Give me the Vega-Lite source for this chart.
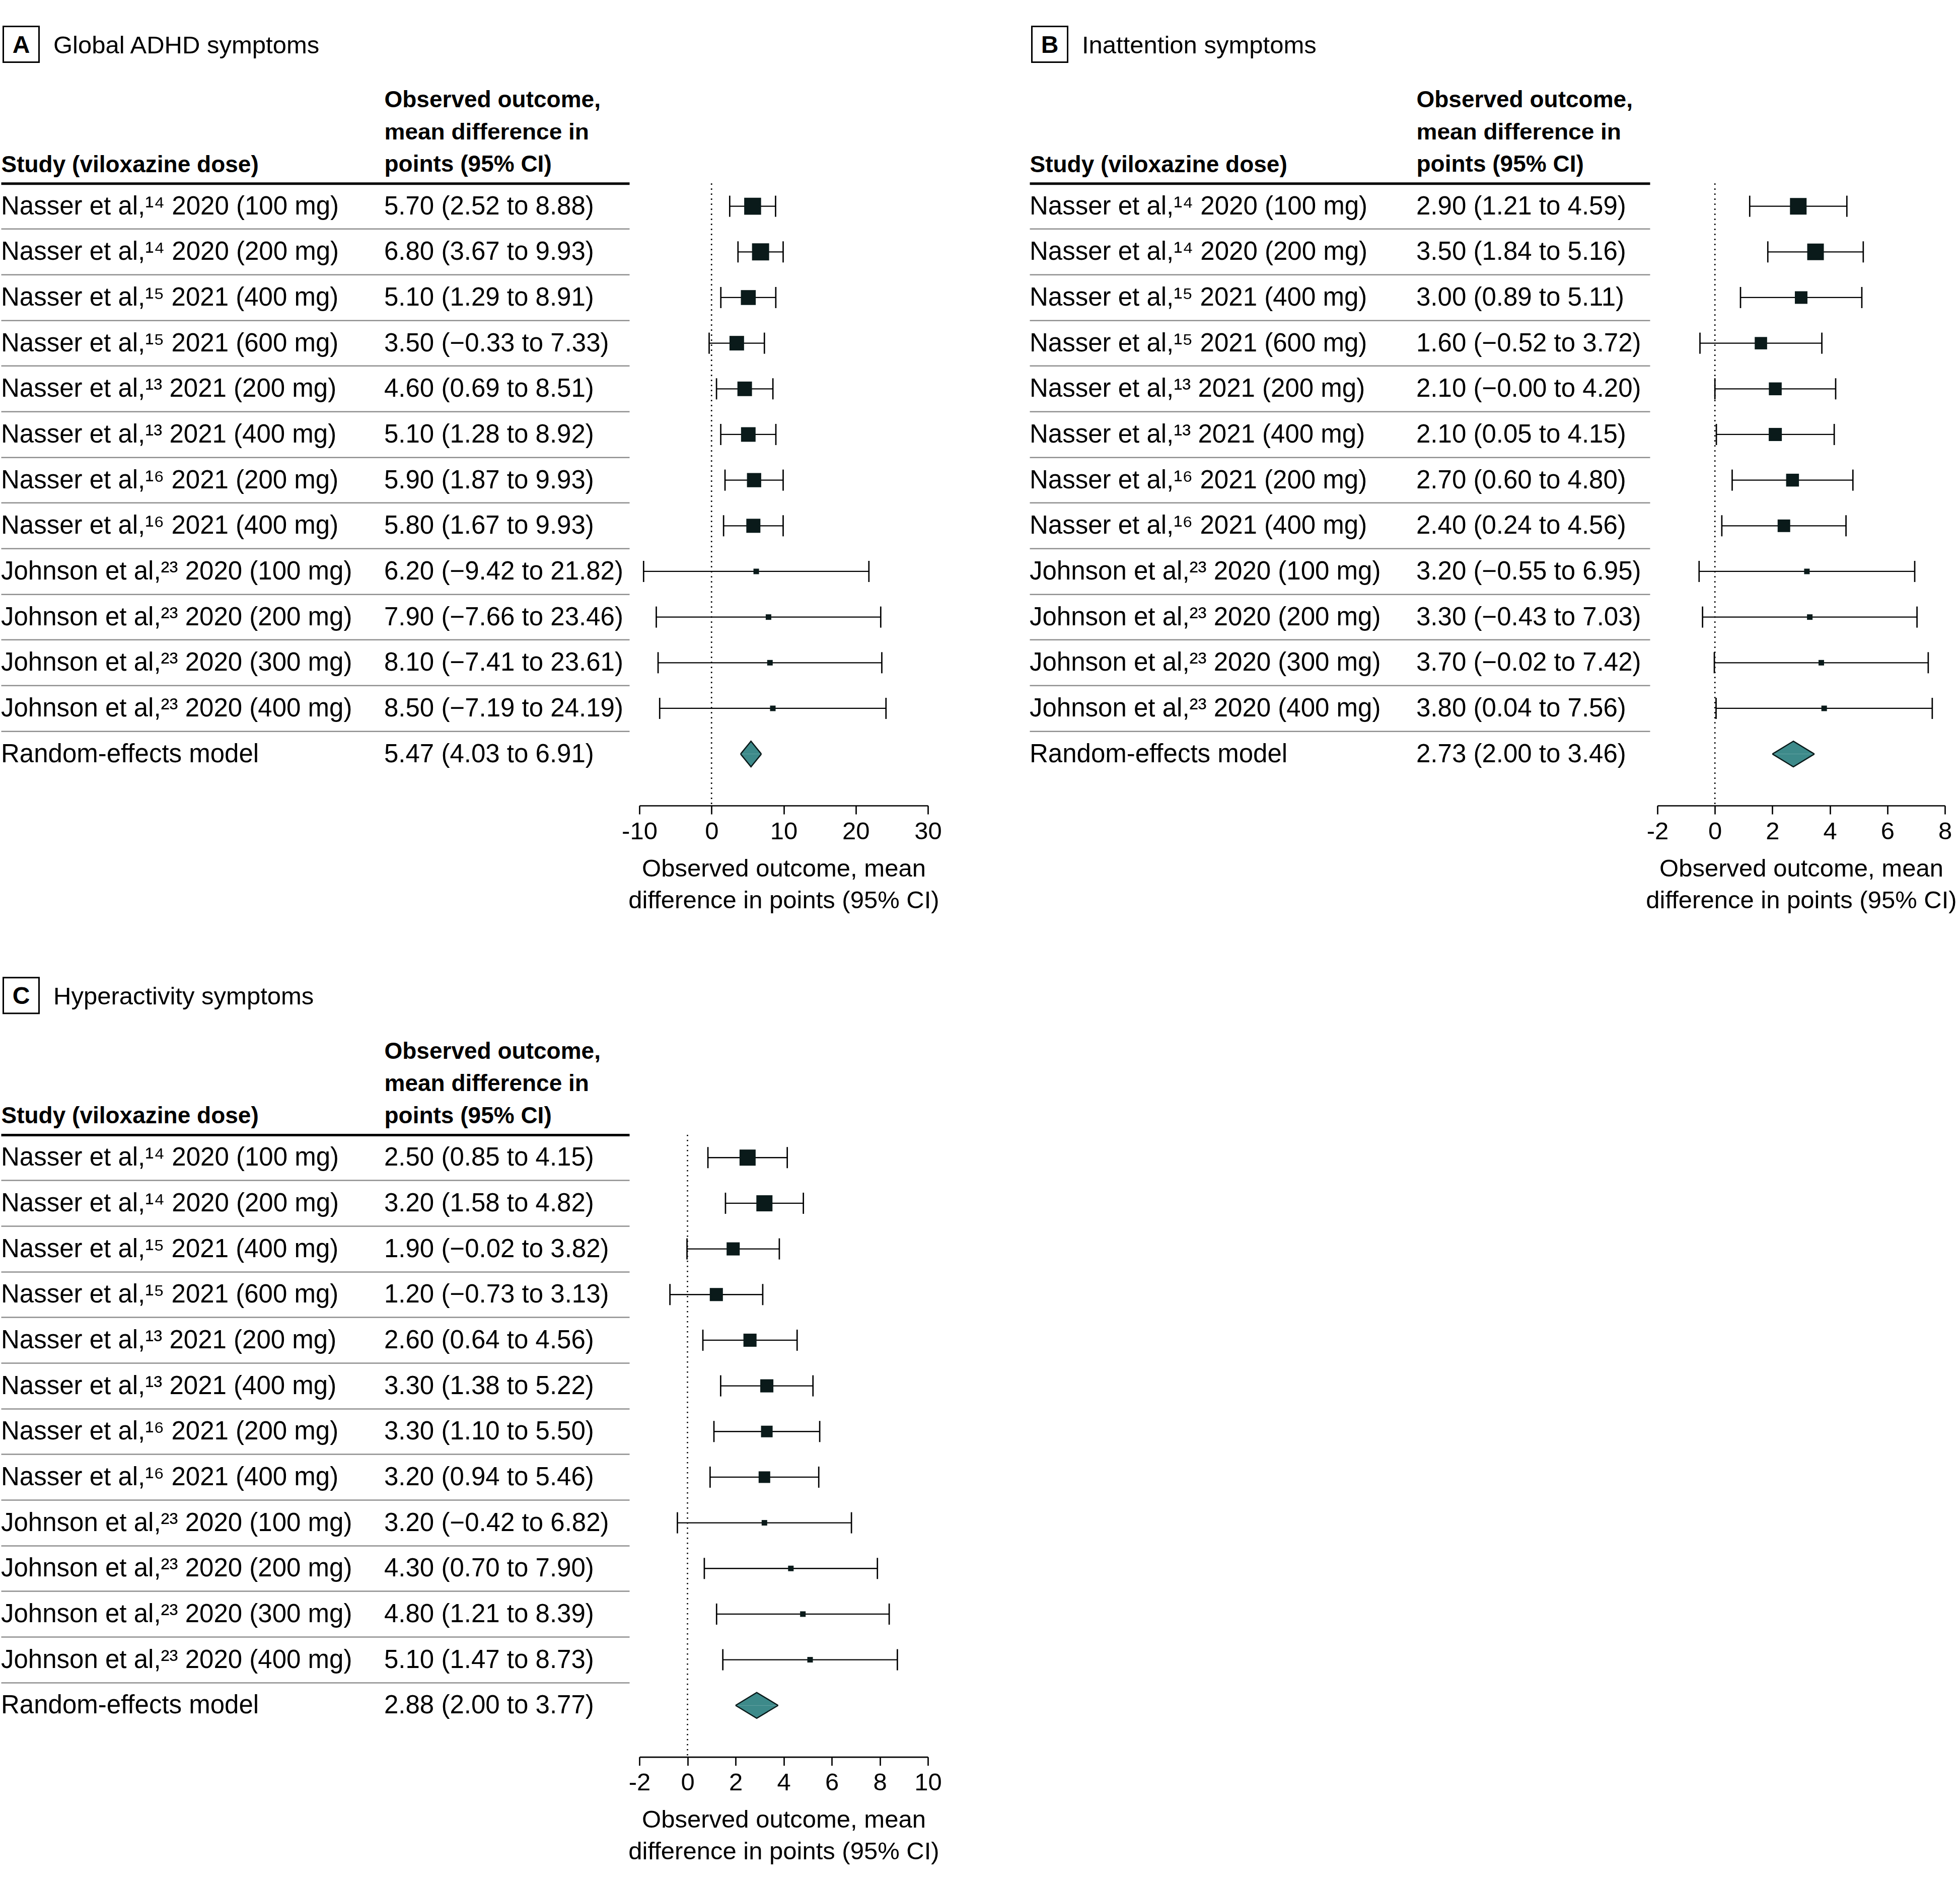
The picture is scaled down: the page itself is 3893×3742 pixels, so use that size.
{
  "$schema": "https://vega.github.io/schema/vega-lite/v6.json",
  "background": "white",
  "padding": {"left": 0, "top": 46, "right": 5, "bottom": 5},
  "config": {
    "font": "Liberation Sans",
    "view": {"stroke": null},
    "text": {"font": "Liberation Sans"},
    "axis": {"labelFont": "Liberation Sans", "titleFont": "Liberation Sans"}
  },
  "datasets": {
    "A": [
      {"row": 1, "kind": "study", "study": "Nasser et al,¹⁴ 2020 (100 mg)", "outcome": "5.70 (2.52 to 8.88)", "est": 5.70, "lo": 2.52, "hi": 8.88, "weight": 12.1},
      {"row": 2, "kind": "study", "study": "Nasser et al,¹⁴ 2020 (200 mg)", "outcome": "6.80 (3.67 to 9.93)", "est": 6.80, "lo": 3.67, "hi": 9.93, "weight": 12.4},
      {"row": 3, "kind": "study", "study": "Nasser et al,¹⁵ 2021 (400 mg)", "outcome": "5.10 (1.29 to 8.91)", "est": 5.10, "lo": 1.29, "hi": 8.91, "weight": 9.4},
      {"row": 4, "kind": "study", "study": "Nasser et al,¹⁵ 2021 (600 mg)", "outcome": "3.50 (−0.33 to 7.33)", "est": 3.50, "lo": -0.33, "hi": 7.33, "weight": 9.0},
      {"row": 5, "kind": "study", "study": "Nasser et al,¹³ 2021 (200 mg)", "outcome": "4.60 (0.69 to 8.51)", "est": 4.60, "lo": 0.69, "hi": 8.51, "weight": 9.0},
      {"row": 6, "kind": "study", "study": "Nasser et al,¹³ 2021 (400 mg)", "outcome": "5.10 (1.28 to 8.92)", "est": 5.10, "lo": 1.28, "hi": 8.92, "weight": 9.0},
      {"row": 7, "kind": "study", "study": "Nasser et al,¹⁶ 2021 (200 mg)", "outcome": "5.90 (1.87 to 9.93)", "est": 5.90, "lo": 1.87, "hi": 9.93, "weight": 8.6},
      {"row": 8, "kind": "study", "study": "Nasser et al,¹⁶ 2021 (400 mg)", "outcome": "5.80 (1.67 to 9.93)", "est": 5.80, "lo": 1.67, "hi": 9.93, "weight": 8.4},
      {"row": 9, "kind": "study", "study": "Johnson et al,²³ 2020 (100 mg)", "outcome": "6.20 (−9.42 to 21.82)", "est": 6.20, "lo": -9.42, "hi": 21.82, "weight": 1.3},
      {"row": 10, "kind": "study", "study": "Johnson et al,²³ 2020 (200 mg)", "outcome": "7.90 (−7.66 to 23.46)", "est": 7.90, "lo": -7.66, "hi": 23.46, "weight": 1.3},
      {"row": 11, "kind": "study", "study": "Johnson et al,²³ 2020 (300 mg)", "outcome": "8.10 (−7.41 to 23.61)", "est": 8.10, "lo": -7.41, "hi": 23.61, "weight": 1.3},
      {"row": 12, "kind": "study", "study": "Johnson et al,²³ 2020 (400 mg)", "outcome": "8.50 (−7.19 to 24.19)", "est": 8.50, "lo": -7.19, "hi": 24.19, "weight": 1.3},
      {"row": 13, "kind": "summary", "study": "Random-effects model", "outcome": "5.47 (4.03 to 6.91)", "est": 5.47, "lo": 4.03, "hi": 6.91, "weight": null}
    ],
    "B": [
      {"row": 1, "kind": "study", "study": "Nasser et al,¹⁴ 2020 (100 mg)", "outcome": "2.90 (1.21 to 4.59)", "est": 2.90, "lo": 1.21, "hi": 4.59, "weight": 11.7},
      {"row": 2, "kind": "study", "study": "Nasser et al,¹⁴ 2020 (200 mg)", "outcome": "3.50 (1.84 to 5.16)", "est": 3.50, "lo": 1.84, "hi": 5.16, "weight": 11.7},
      {"row": 3, "kind": "study", "study": "Nasser et al,¹⁵ 2021 (400 mg)", "outcome": "3.00 (0.89 to 5.11)", "est": 3.00, "lo": 0.89, "hi": 5.11, "weight": 6.7},
      {"row": 4, "kind": "study", "study": "Nasser et al,¹⁵ 2021 (600 mg)", "outcome": "1.60 (−0.52 to 3.72)", "est": 1.60, "lo": -0.52, "hi": 3.72, "weight": 6.5},
      {"row": 5, "kind": "study", "study": "Nasser et al,¹³ 2021 (200 mg)", "outcome": "2.10 (−0.00 to 4.20)", "est": 2.10, "lo": 0.00, "hi": 4.20, "weight": 7.0},
      {"row": 6, "kind": "study", "study": "Nasser et al,¹³ 2021 (400 mg)", "outcome": "2.10 (0.05 to 4.15)", "est": 2.10, "lo": 0.05, "hi": 4.15, "weight": 7.3},
      {"row": 7, "kind": "study", "study": "Nasser et al,¹⁶ 2021 (200 mg)", "outcome": "2.70 (0.60 to 4.80)", "est": 2.70, "lo": 0.60, "hi": 4.80, "weight": 7.0},
      {"row": 8, "kind": "study", "study": "Nasser et al,¹⁶ 2021 (400 mg)", "outcome": "2.40 (0.24 to 4.56)", "est": 2.40, "lo": 0.24, "hi": 4.56, "weight": 6.7},
      {"row": 9, "kind": "study", "study": "Johnson et al,²³ 2020 (100 mg)", "outcome": "3.20 (−0.55 to 6.95)", "est": 3.20, "lo": -0.55, "hi": 6.95, "weight": 1.3},
      {"row": 10, "kind": "study", "study": "Johnson et al,²³ 2020 (200 mg)", "outcome": "3.30 (−0.43 to 7.03)", "est": 3.30, "lo": -0.43, "hi": 7.03, "weight": 1.3},
      {"row": 11, "kind": "study", "study": "Johnson et al,²³ 2020 (300 mg)", "outcome": "3.70 (−0.02 to 7.42)", "est": 3.70, "lo": -0.02, "hi": 7.42, "weight": 1.3},
      {"row": 12, "kind": "study", "study": "Johnson et al,²³ 2020 (400 mg)", "outcome": "3.80 (0.04 to 7.56)", "est": 3.80, "lo": 0.04, "hi": 7.56, "weight": 1.3},
      {"row": 13, "kind": "summary", "study": "Random-effects model", "outcome": "2.73 (2.00 to 3.46)", "est": 2.73, "lo": 2.00, "hi": 3.46, "weight": null}
    ],
    "C": [
      {"row": 1, "kind": "study", "study": "Nasser et al,¹⁴ 2020 (100 mg)", "outcome": "2.50 (0.85 to 4.15)", "est": 2.50, "lo": 0.85, "hi": 4.15, "weight": 11.0},
      {"row": 2, "kind": "study", "study": "Nasser et al,¹⁴ 2020 (200 mg)", "outcome": "3.20 (1.58 to 4.82)", "est": 3.20, "lo": 1.58, "hi": 4.82, "weight": 11.0},
      {"row": 3, "kind": "study", "study": "Nasser et al,¹⁵ 2021 (400 mg)", "outcome": "1.90 (−0.02 to 3.82)", "est": 1.90, "lo": -0.02, "hi": 3.82, "weight": 7.3},
      {"row": 4, "kind": "study", "study": "Nasser et al,¹⁵ 2021 (600 mg)", "outcome": "1.20 (−0.73 to 3.13)", "est": 1.20, "lo": -0.73, "hi": 3.13, "weight": 7.3},
      {"row": 5, "kind": "study", "study": "Nasser et al,¹³ 2021 (200 mg)", "outcome": "2.60 (0.64 to 4.56)", "est": 2.60, "lo": 0.64, "hi": 4.56, "weight": 7.3},
      {"row": 6, "kind": "study", "study": "Nasser et al,¹³ 2021 (400 mg)", "outcome": "3.30 (1.38 to 5.22)", "est": 3.30, "lo": 1.38, "hi": 5.22, "weight": 7.3},
      {"row": 7, "kind": "study", "study": "Nasser et al,¹⁶ 2021 (200 mg)", "outcome": "3.30 (1.10 to 5.50)", "est": 3.30, "lo": 1.10, "hi": 5.50, "weight": 5.7},
      {"row": 8, "kind": "study", "study": "Nasser et al,¹⁶ 2021 (400 mg)", "outcome": "3.20 (0.94 to 5.46)", "est": 3.20, "lo": 0.94, "hi": 5.46, "weight": 5.7},
      {"row": 9, "kind": "study", "study": "Johnson et al,²³ 2020 (100 mg)", "outcome": "3.20 (−0.42 to 6.82)", "est": 3.20, "lo": -0.42, "hi": 6.82, "weight": 1.3},
      {"row": 10, "kind": "study", "study": "Johnson et al,²³ 2020 (200 mg)", "outcome": "4.30 (0.70 to 7.90)", "est": 4.30, "lo": 0.70, "hi": 7.90, "weight": 1.3},
      {"row": 11, "kind": "study", "study": "Johnson et al,²³ 2020 (300 mg)", "outcome": "4.80 (1.21 to 8.39)", "est": 4.80, "lo": 1.21, "hi": 8.39, "weight": 1.3},
      {"row": 12, "kind": "study", "study": "Johnson et al,²³ 2020 (400 mg)", "outcome": "5.10 (1.47 to 8.73)", "est": 5.10, "lo": 1.47, "hi": 8.73, "weight": 1.3},
      {"row": 13, "kind": "summary", "study": "Random-effects model", "outcome": "2.88 (2.00 to 3.77)", "est": 2.88, "lo": 2.00, "hi": 3.77, "weight": null}
    ],
    "titles": [
      {"panel": "A", "letter": "A", "title": "Global ADHD symptoms"},
      {"panel": "B", "letter": "B", "title": "Inattention symptoms"},
      {"panel": "C", "letter": "C", "title": "Hyperactivity symptoms"}
    ],
    "blank": [{"t": ""}]
  },
  "columns": 4,
  "bounds": "flush",
  "spacing": {"row": 236.3, "column": 0},
  "concat": [
    {
      "width": 80, "height": 80,
      "data": {"name": "titles"},
      "transform": [{"filter": "datum.panel == 'A'"}],
      "layer": [
        {"mark": {"type": "point", "shape": "square", "size": 5041, "filled": false, "stroke": "black", "strokeWidth": 3, "opacity": 1}, "encoding": {}},
        {"mark": {"type": "text", "fontWeight": "bold", "fontSize": 48, "align": "center", "baseline": "middle", "color": "black", "dy": 3}, "encoding": {"text": {"field": "letter"}}},
        {"mark": {"type": "text", "fontSize": 49, "align": "left", "baseline": "middle", "dx": 64, "dy": 3, "color": "black"}, "encoding": {"text": {"field": "title"}}}
      ]
    },
    {"width": 1, "height": 30, "data": {"name": "blank"}, "mark": {"type": "text", "fontSize": 1}, "encoding": {"text": {"field": "t"}}},
    {
      "width": 80, "height": 80,
      "data": {"name": "titles"},
      "transform": [{"filter": "datum.panel == 'B'"}],
      "layer": [
        {"mark": {"type": "point", "shape": "square", "size": 5041, "filled": false, "stroke": "black", "strokeWidth": 3, "opacity": 1}, "encoding": {}},
        {"mark": {"type": "text", "fontWeight": "bold", "fontSize": 48, "align": "center", "baseline": "middle", "color": "black", "dy": 3}, "encoding": {"text": {"field": "letter"}}},
        {"mark": {"type": "text", "fontSize": 49, "align": "left", "baseline": "middle", "dx": 64, "dy": 3, "color": "black"}, "encoding": {"text": {"field": "title"}}}
      ]
    },
    {"width": 1, "height": 30, "data": {"name": "blank"}, "mark": {"type": "text", "fontSize": 1}, "encoding": {"text": {"field": "t"}}},
    {
      "width": 1248, "height": 1178.7,
      "data": {"name": "A"},
      "transform": [{"fold": ["study", "outcome"], "as": ["col", "txt"]}],
      "mark": {"type": "text", "align": "left", "baseline": "middle", "fontSize": 51, "color": "black", "dy": 1},
      "encoding": {
        "x": {"field": "col", "type": "nominal",
          "scale": {"type": "point", "domain": ["study", "outcome"], "padding": 0.32, "align": 0},
          "axis": {"orient": "top", "title": null, "ticks": false, "tickSize": 0, "grid": false, "domain": true, "domainColor": "black", "domainWidth": 5,
            "labelExpr": "datum.value == 'study' ? 'Study (viloxazine dose)' : ['Observed outcome,', 'mean difference in', 'points (95% CI)']",
            "labelAngle": 0, "labelFontWeight": "bold", "labelFontSize": 46, "labelColor": "black", "labelAlign": "left", "labelBaseline": "bottom",
            "labelPadding": {"condition": {"test": "datum.value == 'study'", "value": 13.3}, "value": 141.3},
            "labelLineHeight": 64, "labelLimit": 0, "labelOverlap": false, "labelFlush": false}},
        "y": {"field": "row", "type": "ordinal",
          "scale": {"type": "band", "domain": [1,2,3,4,5,6,7,8,9,10,11,12,13], "paddingInner": 0, "paddingOuter": 0},
          "axis": {"title": null, "labels": false, "ticks": false, "domain": false, "grid": true, "gridColor": "#8f8f8f", "gridWidth": 2.5, "values": [2,3,4,5,6,7,8,9,10,11,12,13], "bandPosition": 0}},
        "text": {"field": "txt"}
      }
    },
    {
      "width": 795, "height": 1235.7,
      "layer": [
        {"data": {"values": [{"ref": 0}]},
         "mark": {"type": "rule", "strokeDash": [2.7, 7.3], "strokeWidth": 2.7, "color": "black"},
         "encoding": {"x": {"field": "ref", "type": "quantitative",
           "scale": {"domain": [-10, 30], "range": [20, 593], "nice": false, "zero": false},
           "axis": {"orient": "bottom", "values": [-10, 0, 10, 20, 30], "format": "d", "domain": true, "domainColor": "black", "domainWidth": 2.7, "ticks": true, "tickColor": "black", "tickWidth": 2.7, "tickSize": 17, "labelFontSize": 49, "labelColor": "black", "labelPadding": 10, "labelFlush": false, "labelOverlap": false, "labelExpr": "replace(datum.label, '−', '-')", "grid": false,
             "title": ["Observed outcome, mean", "difference in points (95% CI)"], "titleFontSize": 49, "titleFontWeight": "normal", "titleColor": "black", "titlePadding": 25, "titleLineHeight": 63}}}},
        {"data": {"name": "A"}, "transform": [{"filter": "datum.kind == 'study'"}],
         "mark": {"type": "rule", "strokeWidth": 2.3, "color": "black"},
         "encoding": {"x": {"field": "lo", "type": "quantitative"}, "x2": {"field": "hi"},
           "y": {"field": "row", "type": "quantitative", "scale": {"domain": [0.5, 14.129], "reverse": true, "nice": false, "zero": false}, "axis": null}}},
        {"data": {"name": "A"}, "transform": [{"filter": "datum.kind == 'study'"}],
         "mark": {"type": "tick", "orient": "vertical", "size": 42, "thickness": 2.7, "color": "black", "opacity": 1},
         "encoding": {"x": {"field": "lo", "type": "quantitative"}, "y": {"field": "row", "type": "quantitative", "axis": null}}},
        {"data": {"name": "A"}, "transform": [{"filter": "datum.kind == 'study'"}],
         "mark": {"type": "tick", "orient": "vertical", "size": 42, "thickness": 2.7, "color": "black", "opacity": 1},
         "encoding": {"x": {"field": "hi", "type": "quantitative"}, "y": {"field": "row", "type": "quantitative", "axis": null}}},
        {"data": {"name": "A"}, "transform": [{"filter": "datum.kind == 'study'"}],
         "mark": {"type": "point", "shape": "square", "filled": true, "color": "#0a1a1a", "opacity": 1},
         "encoding": {"x": {"field": "est", "type": "quantitative"}, "y": {"field": "row", "type": "quantitative", "axis": null},
           "size": {"field": "weight", "type": "quantitative", "scale": {"domain": [0, 15], "range": [0, 1395]}, "legend": null}}},
        {"data": {"name": "A"}, "transform": [{"filter": "datum.kind == 'summary'"}, {"fold": ["lo", "est", "hi"], "as": ["part", "val"]}],
         "mark": {"type": "line", "fill": "#3d8a8a", "stroke": "#0a1a1a", "strokeWidth": 2.5, "strokeJoin": "miter", "opacity": 1, "yOffset": {"expr": "datum.part == 'est' ? -25.5 : 0"}},
         "encoding": {"x": {"field": "val", "type": "quantitative"}, "y": {"field": "row", "type": "quantitative", "axis": null}}},
        {"data": {"name": "A"}, "transform": [{"filter": "datum.kind == 'summary'"}, {"fold": ["lo", "est", "hi"], "as": ["part", "val"]}],
         "mark": {"type": "line", "fill": "#3d8a8a", "stroke": "#0a1a1a", "strokeWidth": 2.5, "strokeJoin": "miter", "opacity": 1, "yOffset": {"expr": "datum.part == 'est' ? 25.5 : 0"}},
         "encoding": {"x": {"field": "val", "type": "quantitative"}, "y": {"field": "row", "type": "quantitative", "axis": null}}}
      ]
    },
    {
      "width": 1232, "height": 1178.7,
      "data": {"name": "B"},
      "transform": [{"fold": ["study", "outcome"], "as": ["col", "txt"]}],
      "mark": {"type": "text", "align": "left", "baseline": "middle", "fontSize": 51, "color": "black", "dy": 1},
      "encoding": {
        "x": {"field": "col", "type": "nominal",
          "scale": {"type": "point", "domain": ["study", "outcome"], "padding": 0.3021, "align": 0},
          "axis": {"orient": "top", "title": null, "ticks": false, "tickSize": 0, "grid": false, "domain": true, "domainColor": "black", "domainWidth": 5,
            "labelExpr": "datum.value == 'study' ? 'Study (viloxazine dose)' : ['Observed outcome,', 'mean difference in', 'points (95% CI)']",
            "labelAngle": 0, "labelFontWeight": "bold", "labelFontSize": 46, "labelColor": "black", "labelAlign": "left", "labelBaseline": "bottom",
            "labelPadding": {"condition": {"test": "datum.value == 'study'", "value": 13.3}, "value": 141.3},
            "labelLineHeight": 64, "labelLimit": 0, "labelOverlap": false, "labelFlush": false}},
        "y": {"field": "row", "type": "ordinal",
          "scale": {"type": "band", "domain": [1,2,3,4,5,6,7,8,9,10,11,12,13], "paddingInner": 0, "paddingOuter": 0},
          "axis": {"title": null, "labels": false, "ticks": false, "domain": false, "grid": true, "gridColor": "#8f8f8f", "gridWidth": 2.5, "values": [2,3,4,5,6,7,8,9,10,11,12,13], "bandPosition": 0}},
        "text": {"field": "txt"}
      }
    },
    {
      "width": 586, "height": 1235.7,
      "layer": [
        {"data": {"values": [{"ref": 0}]},
         "mark": {"type": "rule", "strokeDash": [2.7, 7.3], "strokeWidth": 2.7, "color": "black"},
         "encoding": {"x": {"field": "ref", "type": "quantitative",
           "scale": {"domain": [-2, 8], "range": [15, 586], "nice": false, "zero": false},
           "axis": {"orient": "bottom", "values": [-2, 0, 2, 4, 6, 8], "format": "d", "domain": true, "domainColor": "black", "domainWidth": 2.7, "ticks": true, "tickColor": "black", "tickWidth": 2.7, "tickSize": 17, "labelFontSize": 49, "labelColor": "black", "labelPadding": 10, "labelFlush": false, "labelOverlap": false, "labelExpr": "replace(datum.label, '−', '-')", "grid": false,
             "title": ["Observed outcome, mean", "difference in points (95% CI)"], "titleFontSize": 49, "titleFontWeight": "normal", "titleColor": "black", "titlePadding": 25, "titleLineHeight": 63}}}},
        {"data": {"name": "B"}, "transform": [{"filter": "datum.kind == 'study'"}],
         "mark": {"type": "rule", "strokeWidth": 2.3, "color": "black"},
         "encoding": {"x": {"field": "lo", "type": "quantitative"}, "x2": {"field": "hi"},
           "y": {"field": "row", "type": "quantitative", "scale": {"domain": [0.5, 14.129], "reverse": true, "nice": false, "zero": false}, "axis": null}}},
        {"data": {"name": "B"}, "transform": [{"filter": "datum.kind == 'study'"}],
         "mark": {"type": "tick", "orient": "vertical", "size": 42, "thickness": 2.7, "color": "black", "opacity": 1},
         "encoding": {"x": {"field": "lo", "type": "quantitative"}, "y": {"field": "row", "type": "quantitative", "axis": null}}},
        {"data": {"name": "B"}, "transform": [{"filter": "datum.kind == 'study'"}],
         "mark": {"type": "tick", "orient": "vertical", "size": 42, "thickness": 2.7, "color": "black", "opacity": 1},
         "encoding": {"x": {"field": "hi", "type": "quantitative"}, "y": {"field": "row", "type": "quantitative", "axis": null}}},
        {"data": {"name": "B"}, "transform": [{"filter": "datum.kind == 'study'"}],
         "mark": {"type": "point", "shape": "square", "filled": true, "color": "#0a1a1a", "opacity": 1},
         "encoding": {"x": {"field": "est", "type": "quantitative"}, "y": {"field": "row", "type": "quantitative", "axis": null},
           "size": {"field": "weight", "type": "quantitative", "scale": {"domain": [0, 15], "range": [0, 1395]}, "legend": null}}},
        {"data": {"name": "B"}, "transform": [{"filter": "datum.kind == 'summary'"}, {"fold": ["lo", "est", "hi"], "as": ["part", "val"]}],
         "mark": {"type": "line", "fill": "#3d8a8a", "stroke": "#0a1a1a", "strokeWidth": 2.5, "strokeJoin": "miter", "opacity": 1, "yOffset": {"expr": "datum.part == 'est' ? -25.5 : 0"}},
         "encoding": {"x": {"field": "val", "type": "quantitative"}, "y": {"field": "row", "type": "quantitative", "axis": null}}},
        {"data": {"name": "B"}, "transform": [{"filter": "datum.kind == 'summary'"}, {"fold": ["lo", "est", "hi"], "as": ["part", "val"]}],
         "mark": {"type": "line", "fill": "#3d8a8a", "stroke": "#0a1a1a", "strokeWidth": 2.5, "strokeJoin": "miter", "opacity": 1, "yOffset": {"expr": "datum.part == 'est' ? 25.5 : 0"}},
         "encoding": {"x": {"field": "val", "type": "quantitative"}, "y": {"field": "row", "type": "quantitative", "axis": null}}}
      ]
    },
    {
      "width": 80, "height": 180.7,
      "data": {"name": "titles"},
      "transform": [{"filter": "datum.panel == 'C'"}],
      "layer": [
        {"mark": {"type": "point", "shape": "square", "size": 5041, "filled": false, "stroke": "black", "strokeWidth": 3, "opacity": 1, "yOffset": 50.35}, "encoding": {}},
        {"mark": {"type": "text", "fontWeight": "bold", "fontSize": 48, "align": "center", "baseline": "middle", "color": "black", "yOffset": 50.35, "dy": 3}, "encoding": {"text": {"field": "letter"}}},
        {"mark": {"type": "text", "fontSize": 49, "align": "left", "baseline": "middle", "dx": 64, "dy": 3, "yOffset": 50.35, "color": "black"}, "encoding": {"text": {"field": "title"}}}
      ]
    },
    {"width": 1, "height": 30, "data": {"name": "blank"}, "mark": {"type": "text", "fontSize": 1}, "encoding": {"text": {"field": "t"}}},
    {"width": 1, "height": 30, "data": {"name": "blank"}, "mark": {"type": "text", "fontSize": 1}, "encoding": {"text": {"field": "t"}}},
    {"width": 1, "height": 30, "data": {"name": "blank"}, "mark": {"type": "text", "fontSize": 1}, "encoding": {"text": {"field": "t"}}},
    {
      "width": 1248, "height": 1178.7,
      "data": {"name": "C"},
      "transform": [{"fold": ["study", "outcome"], "as": ["col", "txt"]}],
      "mark": {"type": "text", "align": "left", "baseline": "middle", "fontSize": 51, "color": "black", "dy": 1},
      "encoding": {
        "x": {"field": "col", "type": "nominal",
          "scale": {"type": "point", "domain": ["study", "outcome"], "padding": 0.32, "align": 0},
          "axis": {"orient": "top", "title": null, "ticks": false, "tickSize": 0, "grid": false, "domain": true, "domainColor": "black", "domainWidth": 5,
            "labelExpr": "datum.value == 'study' ? 'Study (viloxazine dose)' : ['Observed outcome,', 'mean difference in', 'points (95% CI)']",
            "labelAngle": 0, "labelFontWeight": "bold", "labelFontSize": 46, "labelColor": "black", "labelAlign": "left", "labelBaseline": "bottom",
            "labelPadding": {"condition": {"test": "datum.value == 'study'", "value": 13.3}, "value": 141.3},
            "labelLineHeight": 64, "labelLimit": 0, "labelOverlap": false, "labelFlush": false}},
        "y": {"field": "row", "type": "ordinal",
          "scale": {"type": "band", "domain": [1,2,3,4,5,6,7,8,9,10,11,12,13], "paddingInner": 0, "paddingOuter": 0},
          "axis": {"title": null, "labels": false, "ticks": false, "domain": false, "grid": true, "gridColor": "#8f8f8f", "gridWidth": 2.5, "values": [2,3,4,5,6,7,8,9,10,11,12,13], "bandPosition": 0}},
        "text": {"field": "txt"}
      }
    },
    {
      "width": 795, "height": 1235.7,
      "layer": [
        {"data": {"values": [{"ref": 0}]},
         "mark": {"type": "rule", "strokeDash": [2.7, 7.3], "strokeWidth": 2.7, "color": "black"},
         "encoding": {"x": {"field": "ref", "type": "quantitative",
           "scale": {"domain": [-2, 10], "range": [20, 593], "nice": false, "zero": false},
           "axis": {"orient": "bottom", "values": [-2, 0, 2, 4, 6, 8, 10], "format": "d", "domain": true, "domainColor": "black", "domainWidth": 2.7, "ticks": true, "tickColor": "black", "tickWidth": 2.7, "tickSize": 17, "labelFontSize": 49, "labelColor": "black", "labelPadding": 10, "labelFlush": false, "labelOverlap": false, "labelExpr": "replace(datum.label, '−', '-')", "grid": false,
             "title": ["Observed outcome, mean", "difference in points (95% CI)"], "titleFontSize": 49, "titleFontWeight": "normal", "titleColor": "black", "titlePadding": 25, "titleLineHeight": 63}}}},
        {"data": {"name": "C"}, "transform": [{"filter": "datum.kind == 'study'"}],
         "mark": {"type": "rule", "strokeWidth": 2.3, "color": "black"},
         "encoding": {"x": {"field": "lo", "type": "quantitative"}, "x2": {"field": "hi"},
           "y": {"field": "row", "type": "quantitative", "scale": {"domain": [0.5, 14.129], "reverse": true, "nice": false, "zero": false}, "axis": null}}},
        {"data": {"name": "C"}, "transform": [{"filter": "datum.kind == 'study'"}],
         "mark": {"type": "tick", "orient": "vertical", "size": 42, "thickness": 2.7, "color": "black", "opacity": 1},
         "encoding": {"x": {"field": "lo", "type": "quantitative"}, "y": {"field": "row", "type": "quantitative", "axis": null}}},
        {"data": {"name": "C"}, "transform": [{"filter": "datum.kind == 'study'"}],
         "mark": {"type": "tick", "orient": "vertical", "size": 42, "thickness": 2.7, "color": "black", "opacity": 1},
         "encoding": {"x": {"field": "hi", "type": "quantitative"}, "y": {"field": "row", "type": "quantitative", "axis": null}}},
        {"data": {"name": "C"}, "transform": [{"filter": "datum.kind == 'study'"}],
         "mark": {"type": "point", "shape": "square", "filled": true, "color": "#0a1a1a", "opacity": 1},
         "encoding": {"x": {"field": "est", "type": "quantitative"}, "y": {"field": "row", "type": "quantitative", "axis": null},
           "size": {"field": "weight", "type": "quantitative", "scale": {"domain": [0, 15], "range": [0, 1395]}, "legend": null}}},
        {"data": {"name": "C"}, "transform": [{"filter": "datum.kind == 'summary'"}, {"fold": ["lo", "est", "hi"], "as": ["part", "val"]}],
         "mark": {"type": "line", "fill": "#3d8a8a", "stroke": "#0a1a1a", "strokeWidth": 2.5, "strokeJoin": "miter", "opacity": 1, "yOffset": {"expr": "datum.part == 'est' ? -25.5 : 0"}},
         "encoding": {"x": {"field": "val", "type": "quantitative"}, "y": {"field": "row", "type": "quantitative", "axis": null}}},
        {"data": {"name": "C"}, "transform": [{"filter": "datum.kind == 'summary'"}, {"fold": ["lo", "est", "hi"], "as": ["part", "val"]}],
         "mark": {"type": "line", "fill": "#3d8a8a", "stroke": "#0a1a1a", "strokeWidth": 2.5, "strokeJoin": "miter", "opacity": 1, "yOffset": {"expr": "datum.part == 'est' ? 25.5 : 0"}},
         "encoding": {"x": {"field": "val", "type": "quantitative"}, "y": {"field": "row", "type": "quantitative", "axis": null}}}
      ]
    }
  ]
}
